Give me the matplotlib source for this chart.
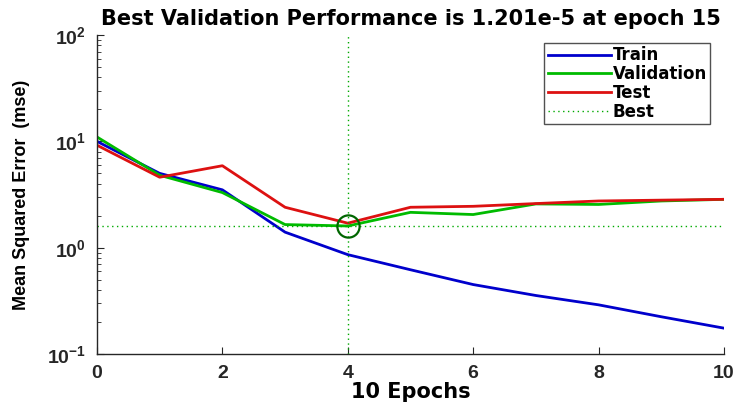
import matplotlib
matplotlib.use("Agg")
import matplotlib.pyplot as plt
from matplotlib import font_manager
from matplotlib.ticker import LogLocator, NullFormatter

plt.rcParams['font.family'] = ['Liberation Sans', 'DejaVu Sans']
plt.rcParams['mathtext.fontset'] = 'custom'
plt.rcParams['mathtext.rm'] = 'Liberation Sans:bold'
plt.rcParams['mathtext.default'] = 'rm'

epochs = [0, 1, 2, 3, 4, 5, 6, 7, 8, 9, 10]
train = [10.0, 5.0, 3.5, 1.40, 0.86, 0.62, 0.45, 0.355, 0.29, 0.224, 0.175]
validation = [11.0, 4.8, 3.3, 1.65, 1.60, 2.15, 2.05, 2.58, 2.55, 2.75, 2.85]
test = [9.2, 4.6, 5.9, 2.40, 1.70, 2.40, 2.45, 2.60, 2.75, 2.80, 2.85]
best_epoch = 4
best_perf = 1.60
title_text = "Best Validation Performance is 1.201e-5 at epoch 15"

wide = ['DejaVu Sans']
installed = {f.name for f in font_manager.fontManager.ttflist}
if 'Liberation Sans Narrow' in installed:
    ylab_family, ylab_size = ['Liberation Sans Narrow'], 15
else:
    ylab_family, ylab_size = ['Liberation Sans'], 13

fig = plt.figure(figsize=(7.38, 4.03), dpi=100)
ax = fig.add_axes([0.1314, 0.1216, 0.8496, 0.7914])

ax.plot(epochs, train, color='#0000CC', lw=2.0, label='Train')
ax.plot(epochs, validation, color='#00BB00', lw=2.0, label='Validation')
ax.plot(epochs, test, color='#DD1111', lw=2.0, label='Test')
ax.axvline(best_epoch, color='#00AA00', lw=1.0, ls=(0, (1, 2.5)), label='Best')
ax.axhline(best_perf, color='#00AA00', lw=1.0, ls=(0, (1, 2.5)))
ax.plot([best_epoch], [best_perf], marker='o', ms=16, mfc='none',
        mec='#006600', mew=1.6)

ax.set_yscale('log')
ax.set_xlim(0, 10)
ax.set_ylim(0.1, 100)
ax.set_xticks([0, 2, 4, 6, 8, 10])
ax.yaxis.set_major_locator(LogLocator(base=10, numticks=10))
ax.yaxis.set_minor_locator(LogLocator(base=10, subs=range(2, 10), numticks=10))
ax.yaxis.set_minor_formatter(NullFormatter())

for s in ('top', 'right'):
    ax.spines[s].set_visible(False)
for s in ('left', 'bottom'):
    ax.spines[s].set_color('#262626')
    ax.spines[s].set_linewidth(1.0)

ax.tick_params(axis='both', which='both', direction='in', colors='#262626')
ax.tick_params(axis='both', which='major', length=5, labelsize=14, pad=8)
ax.tick_params(axis='y', which='minor', length=3)
for lbl in ax.get_xticklabels() + ax.get_yticklabels():
    lbl.set_fontweight('bold')

ax.set_title(title_text, fontsize=15, fontweight='bold', family=wide, pad=7)
ax.set_xlabel('10 Epochs', fontsize=15, fontweight='bold', family=wide, labelpad=0)
ax.set_ylabel('Mean Squared Error  (mse)', fontsize=ylab_size, fontweight='bold',
              family=ylab_family, labelpad=12)

leg = ax.legend(loc='upper right', bbox_to_anchor=(0.978, 0.975),
                prop={'weight': 'bold', 'size': 12, 'family': wide},
                frameon=True, fancybox=False, handlelength=3.8,
                handletextpad=0.1, borderpad=0.2, labelspacing=0.05,
                borderaxespad=0.0)
leg.get_frame().set_edgecolor('#262626')
leg.get_frame().set_linewidth(1.0)

fig.savefig('out.png', dpi=100)
